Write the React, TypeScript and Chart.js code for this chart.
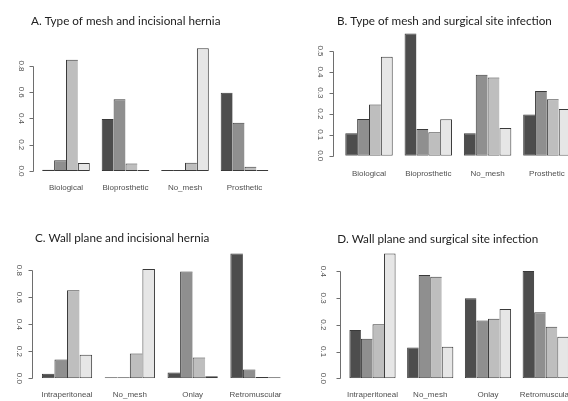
import React, { useEffect, useRef } from 'react';
import { Chart, registerables } from 'chart.js';

Chart.register(...registerables);

// ---- categories ----
const meshTypes = ['Biological', 'Bioprosthetic', 'No_mesh', 'Prosthetic'];
const wallPlanes = ['Intraperitoneal', 'No_mesh', 'Onlay', 'Retromuscular'];

// ---- A. Type of mesh and incisional hernia (4 series, per category) ----
const herniaMesh1 = [0.01, 0.396, 0.0, 0.597];
const herniaMesh2 = [0.081, 0.546, 0.003, 0.368];
const herniaMesh3 = [0.848, 0.058, 0.062, 0.033];
const herniaMesh4 = [0.061, 0.0, 0.935, 0.002];

// ---- B. Type of mesh and surgical site infection ----
const ssiMesh1 = [0.107, 0.584, 0.107, 0.197];
const ssiMesh2 = [0.175, 0.128, 0.386, 0.309];
const ssiMesh3 = [0.245, 0.112, 0.373, 0.269];
const ssiMesh4 = [0.473, 0.174, 0.132, 0.223];

// ---- C. Wall plane and incisional hernia ----
const herniaWall1 = [0.034, 0.0, 0.043, 0.925];
const herniaWall2 = [0.139, 0.004, 0.791, 0.066];
const herniaWall3 = [0.653, 0.184, 0.155, 0.01];
const herniaWall4 = [0.175, 0.81, 0.015, 0.0];

// ---- D. Wall plane and surgical site infection ----
const ssiWall1 = [0.181, 0.115, 0.299, 0.401];
const ssiWall2 = [0.148, 0.386, 0.216, 0.247];
const ssiWall3 = [0.202, 0.38, 0.223, 0.193];
const ssiWall4 = [0.467, 0.118, 0.259, 0.155];

// ---- tick labels ----
const ticksA = [0, 0.2, 0.4, 0.6, 0.8];
const ticksB = [0, 0.1, 0.2, 0.3, 0.4, 0.5];
const ticksC = [0, 0.2, 0.4, 0.6, 0.8];
const ticksD = [0, 0.1, 0.2, 0.3, 0.4];

const titleA = 'A. Type of mesh and incisional hernia';
const titleB = 'B. Type of mesh and surgical site infection';
const titleC = 'C. Wall plane and incisional hernia';
const titleD = 'D. Wall plane and surgical site infection';

const barFills = ['#4d4d4d', '#8f8f8f', '#bebebe', '#e6e6e6'];
const barBorder = '#3a3a3a';

const rAxisPlugin = {
  id: 'rAxis',
  afterDraw(chart: any, _args: any, opts: any) {
    const y = chart.scales.y;
    const ticks = y.ticks;
    if (!ticks || !ticks.length) return;
    const ctx = chart.ctx;
    const x0 = Math.round(chart.chartArea.left - opts.gap) + 0.5;
    ctx.save();
    ctx.strokeStyle = opts.color;
    ctx.lineWidth = 1;
    ctx.beginPath();
    const yBot = Math.round(y.getPixelForValue(ticks[0].value)) + 0.5;
    const yTop = Math.round(y.getPixelForValue(ticks[ticks.length - 1].value)) + 0.5;
    ctx.moveTo(x0, yBot);
    ctx.lineTo(x0, yTop);
    for (const t of ticks) {
      const py = Math.round(y.getPixelForValue(t.value)) + 0.5;
      ctx.moveTo(x0, py);
      ctx.lineTo(x0 - opts.len, py);
    }
    ctx.stroke();
    ctx.restore();
  },
};

interface PanelSpec {
  left: number; top: number; width: number; height: number;
  padLeft: number; padRight: number; yWidth: number; yLabelX: number;
  xHeight: number; xTl: number; yMax: number;
  titlePadTop: number; titlePadBottom: number; axisGap: number;
}

const LABEL_HALF = 5.56; // half width of "0.0" at 8px

function Panel(props: {
  spec: PanelSpec; title: string; labels: string[]; series: number[][]; ticks: number[];
}) {
  const ref = useRef<HTMLCanvasElement | null>(null);
  const { spec, title, labels, series, ticks } = props;
  useEffect(() => {
    if (!ref.current) return;
    const chartLeft = spec.padLeft + spec.yWidth;
    const chart = new Chart(ref.current, {
      type: 'bar',
      data: {
        labels,
        datasets: series.map((s, i) => ({
          data: s,
          backgroundColor: barFills[i],
          borderColor: barBorder,
          borderWidth: { left: 1, top: 1, bottom: 1, right: i === series.length - 1 ? 1 : 0 },
          borderSkipped: false,
          minBarLength: 1,
          categoryPercentage: 0.8,
          barPercentage: 1.0,
        })),
      },
      options: {
        responsive: false,
        animation: false,
        layout: { padding: { left: spec.padLeft, right: spec.padRight, top: 0, bottom: 0 } },
        plugins: {
          legend: { display: false },
          tooltip: { enabled: false },
          title: {
            display: true,
            text: title,
            align: 'start',
            color: '#222222',
            font: { family: 'Lato', size: 11.7, weight: 'normal', lineHeight: 1.2 },
            padding: { top: spec.titlePadTop, bottom: spec.titlePadBottom },
          },
          rAxis: { gap: spec.axisGap, len: 4, color: '#6e6e6e' },
        } as any,
        scales: {
          x: {
            type: 'category',
            offset: true,
            grid: { display: true, drawOnChartArea: false, drawTicks: true, tickLength: spec.xTl, color: 'rgba(0,0,0,0)' },
            border: { display: false },
            ticks: {
              padding: 0,
              autoSkip: false,
              maxRotation: 0,
              minRotation: 0,
              color: '#505050',
              font: { family: 'Liberation Sans', size: 8 },
            },
            afterFit: (scale: any) => { scale.height = spec.xHeight; },
          },
          y: {
            type: 'linear',
            min: 0,
            max: spec.yMax,
            grid: { display: false, drawOnChartArea: false, drawTicks: false },
            border: { display: false },
            afterBuildTicks: (scale: any) => { scale.ticks = ticks.map((v) => ({ value: v })); },
            ticks: {
              mirror: true,
              padding: spec.yLabelX - chartLeft - LABEL_HALF,
              minRotation: -90,
              maxRotation: -90,
              crossAlign: 'center',
              color: '#505050',
              font: { family: 'Liberation Sans', size: 8 },
              callback: (v: any) => Number(v).toFixed(1),
            },
            afterFit: (scale: any) => { scale.width = spec.yWidth; },
          },
        },
      },
      plugins: [rAxisPlugin],
    } as any);
    return () => chart.destroy();
  }, []);
  return (
    <canvas
      ref={ref}
      width={spec.width}
      height={spec.height}
      style={{ position: 'absolute', left: spec.left, top: spec.top, width: spec.width, height: spec.height }}
    />
  );
}

const specA: PanelSpec = {
  left: 0, top: 0, width: 284, height: 200,
  padLeft: 31, padRight: 9.75, yWidth: 5.25, yLabelX: 21,
  xHeight: 29, xTl: 12.2, yMax: 0.96,
  titlePadTop: 13.98, titlePadBottom: 16.98, axisGap: 3.25,
};
const specB: PanelSpec = {
  left: 284, top: 0, width: 300, height: 200,
  padLeft: 53, padRight: 7.45, yWidth: 2.35, yLabelX: 36,
  xHeight: 44.3, xTl: 12.8, yMax: 0.6,
  titlePadTop: 14.48, titlePadBottom: 1.54, axisGap: 6,
};
const specC: PanelSpec = {
  left: 0, top: 200, width: 300, height: 201,
  padLeft: 35, padRight: 13.1, yWidth: 0.6, yLabelX: 19,
  xHeight: 22.7, xTl: 11.9, yMax: 0.96,
  titlePadTop: 30.98, titlePadBottom: 3.68, axisGap: 3.3,
};
const specD: PanelSpec = {
  left: 284, top: 200, width: 300, height: 201,
  padLeft: 53.3, padRight: 9.4, yWidth: 6.3, yLabelX: 39.3,
  xHeight: 22.7, xTl: 11.9, yMax: 0.48,
  titlePadTop: 31.98, titlePadBottom: 3.88, axisGap: 3.6,
};

export default function App() {
  return (
    <div style={{ position: 'absolute', left: 0, top: 0, width: 568, height: 401, overflow: 'hidden', background: '#ffffff' }}>
      <Panel spec={specA} title={titleA} labels={meshTypes} ticks={ticksA}
        series={[herniaMesh1, herniaMesh2, herniaMesh3, herniaMesh4]} />
      <Panel spec={specB} title={titleB} labels={meshTypes} ticks={ticksB}
        series={[ssiMesh1, ssiMesh2, ssiMesh3, ssiMesh4]} />
      <Panel spec={specC} title={titleC} labels={wallPlanes} ticks={ticksC}
        series={[herniaWall1, herniaWall2, herniaWall3, herniaWall4]} />
      <Panel spec={specD} title={titleD} labels={wallPlanes} ticks={ticksD}
        series={[ssiWall1, ssiWall2, ssiWall3, ssiWall4]} />
    </div>
  );
}
